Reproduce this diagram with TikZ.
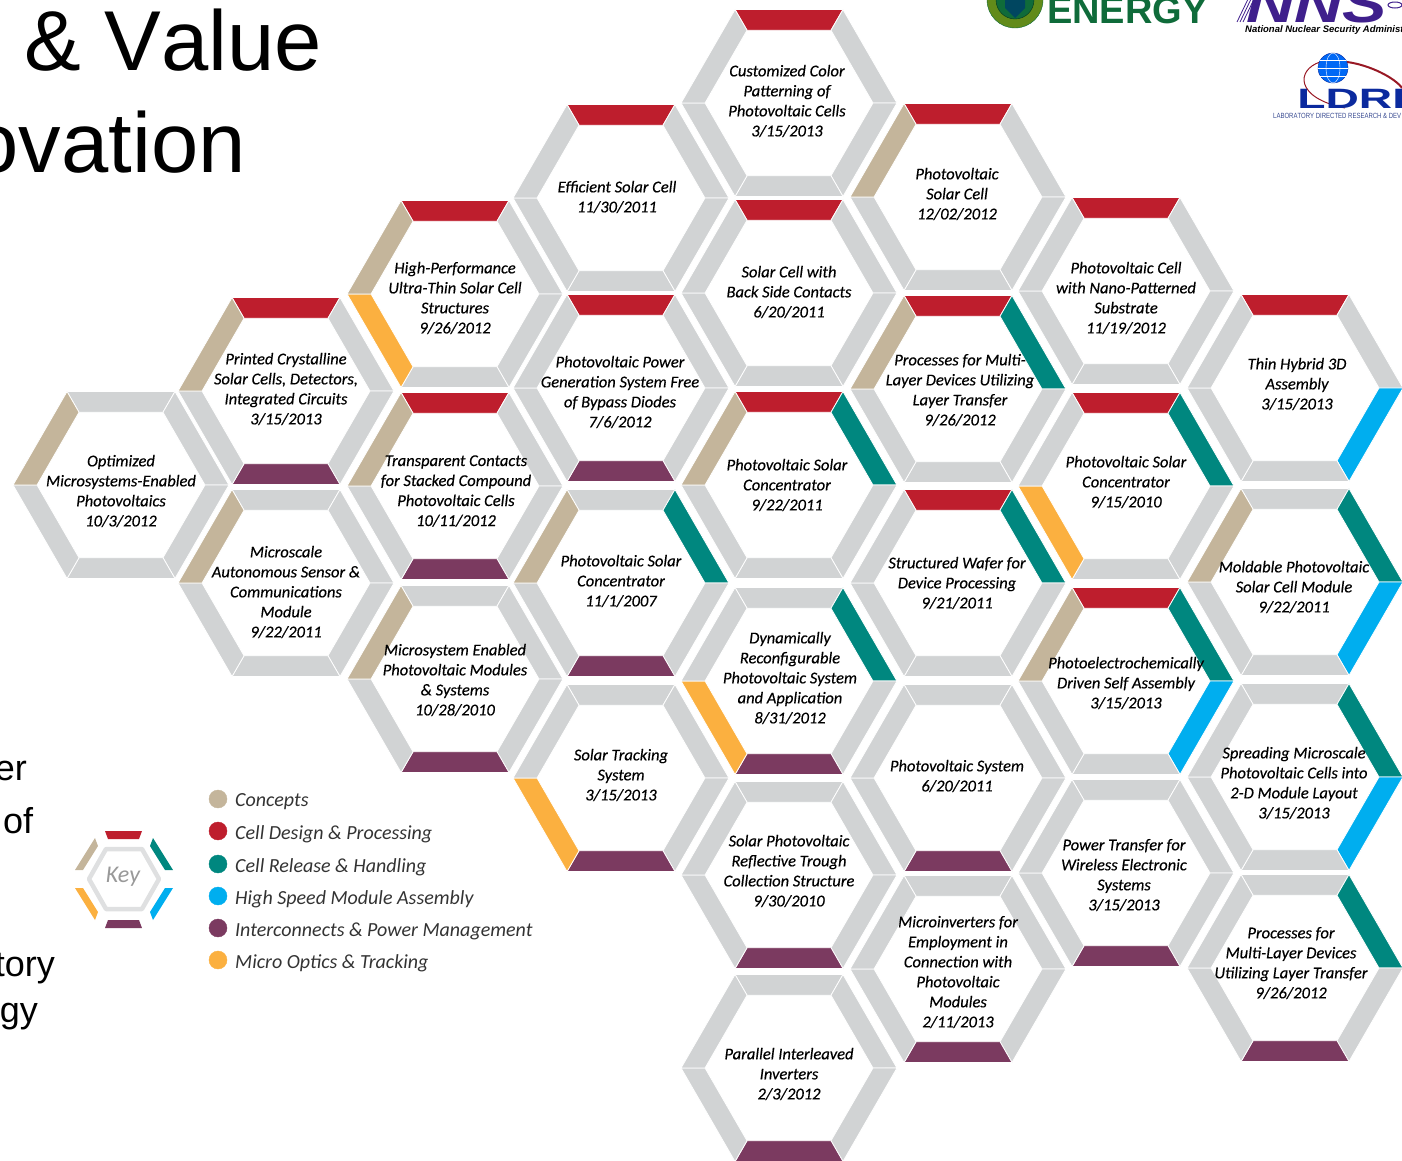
\documentclass[tikz,border=0pt]{standalone}
\usepackage{fontspec}
\usepackage{xcolor}
\setmainfont{Carlito}
\newfontfamily\cellfont{Carlito}[ItalicFeatures={FakeBold=0.35}]
\newfontfamily\arialfont[Kerning=Off]{Liberation Sans}

\definecolor{cgray}{HTML}{D1D3D4}
\definecolor{ctan}{HTML}{C4B59B}
\definecolor{cred}{HTML}{BE1E2D}
\definecolor{cteal}{HTML}{00877F}
\definecolor{cblue}{HTML}{00AEEF}
\definecolor{cpurple}{HTML}{7B3A60}
\definecolor{corange}{HTML}{FBB040}
\definecolor{cgreen}{HTML}{0F6B3A}
\definecolor{cnnsa}{HTML}{3F1F8C}
\definecolor{cldrd}{HTML}{0B2A9E}

\tikzset{
	hexband/.style={draw=white, line width=0.8pt},
	celltext/.style={font=\cellfont\fontsize{16.5}{20}\selectfont\itshape, align=center, inner sep=0pt},
	legendtext/.style={font=\fontsize{20}{24}\selectfont\itshape, text=black!80, anchor=west, inner sep=0pt},
	slidetext/.style={font=\arialfont\fontsize{85}{90}\selectfont, inner sep=0pt},
	sidetext/.style={font=\arialfont\fontsize{36}{40}\selectfont, inner sep=0pt}
}

% x, y, then the colours: top, upper right, lower right, bottom, lower left, upper left
\newcommand{\hexring}[8]{
	\begin{scope}[shift={(#1, #2)}]
		\foreach \bandangle/\bandcolor in {0/#3, -60/#4, -120/#5, 180/#6, 120/#7, 60/#8}
			\filldraw[hexband, fill=\bandcolor, rotate=\bandangle] (-54, -93.5)--(54, -93.5)--(42, -72.7)--(-42, -72.7)--cycle;
	\end{scope}
}

\begin{document}
\begin{tikzpicture}[x=1pt, y=-1pt]
	\useasboundingbox (0, 0) rectangle (1402, 1160);
	\clip (0, 0) rectangle (1402, 1160);

	% slide text
	\node[slidetext, anchor=base west] (value) at (24, 70) {\& Value};
	\node[slidetext, anchor=base east] (ovation) at (246, 172) {ovation};
	\node[sidetext, anchor=base east] (er) at (27, 780) {er};
	\node[sidetext, anchor=base west] (of) at (3, 833) {of};
	\node[sidetext, anchor=base east] (tory) at (55, 976) {tory};
	\node[sidetext, anchor=base east] (gy) at (38, 1022) {gy};

	% logos
	\filldraw[fill=cgreen!55!yellow!80!black, draw=cgreen] (1015, 0) circle (28pt);
	\filldraw[fill=cgreen, draw=cgreen!50!black] (1015, 0) circle (19pt);
	\fill[cblue!40!black] (1005, -5)--(1025, -5)--(1025, 8)--(1015, 18)--(1005, 8)--cycle;
	\node[font=\arialfont\bfseries\fontsize{38}{40}\selectfont, text=cgreen, anchor=base west, inner sep=0pt] (energy) at (1047, 23) {ENERGY};
	\draw[cnnsa, line width=0.8pt] (1237, 22)--(1249, -3);
	\draw[cnnsa, line width=0.8pt] (1240, 22)--(1252, -3);
	\draw[cnnsa, line width=0.8pt] (1243, 22)--(1255, -3);
	\node[font=\arialfont\bfseries\itshape\fontsize{52}{56}\selectfont, text=cnnsa, xscale=1.28, anchor=base west, inner sep=0pt] (nns) at (1246, 22) {NNS};
	\draw[cnnsa, line width=1pt] (1395, 5) ellipse (7pt and 3pt);
	\node[font=\arialfont\bfseries\itshape\fontsize{9.5}{11}\selectfont, anchor=base west, inner sep=0pt] (nnsname) at (1245, 32) {National Nuclear Security Administ};
	\draw[cred!80!black, line width=1pt] (1320, 62) .. controls (1296, 70) and (1295, 98) .. (1345, 108);
	\draw[cred!80!black, line width=2pt] (1347, 62) .. controls (1370, 65) and (1395, 78) .. (1402, 88);
	\filldraw[fill=cblue!60!blue, draw=cldrd] (1333, 68) circle (15pt);
	\draw[white] (1333, 68) ellipse (7pt and 15pt);
	\draw[white] (1318, 68)--(1348, 68);
	\draw[white] (1320, 60)--(1346, 60);
	\draw[white] (1320, 76)--(1346, 76);
	\node[font=\arialfont\bfseries\fontsize{28}{30}\selectfont, text=cldrd, xscale=1.65, anchor=base west, inner sep=0pt] (ldrd) at (1297, 108.5) {LDRD};
	\node[font=\arialfont\fontsize{7.5}{9}\selectfont, text=cldrd!60!gray, xscale=0.8, anchor=base west, inner sep=0pt] (ldrdname) at (1273, 118) {LABORATORY DIRECTED RESEARCH \& DEV};

	% column 1
	\hexring{121}{485}{cgray}{cgray}{cgray}{cgray}{cgray}{ctan}
	\node[celltext] (optimized) at (121, 491) {Optimized\\Microsystems-Enabled\\Photovoltaics\\10/3/2012};

	% column 2
	\hexring{286}{391}{cred}{cgray}{cgray}{cpurple}{cgray}{ctan}
	\node[celltext] (printed) at (286, 389) {Printed Crystalline\\Solar Cells, Detectors,\\Integrated Circuits\\3/15/2013};
	\hexring{286}{583}{cgray}{cgray}{cgray}{cgray}{cgray}{ctan}
	\node[celltext] (microscale) at (286, 592) {Microscale\\Autonomous Sensor \&\\Communications\\Module\\9/22/2011};

	% column 3
	\hexring{455}{294}{cred}{cgray}{cgray}{cgray}{corange}{ctan}
	\node[celltext] (ultrathin) at (455, 298) {High-Performance\\Ultra-Thin Solar Cell\\Structures\\9/26/2012};
	\hexring{455}{486}{cred}{cgray}{cgray}{cpurple}{cgray}{ctan}
	\node[celltext] (transparent) at (456, 491) {Transparent Contacts\\for Stacked Compound\\Photovoltaic Cells\\10/11/2012};
	\hexring{455}{679}{cgray}{cgray}{cgray}{cpurple}{cgray}{ctan}
	\node[celltext] (modules) at (455, 680) {Microsystem Enabled\\Photovoltaic Modules\\\& Systems\\10/28/2010};

	% column 4
	\hexring{621}{198}{cred}{cgray}{cgray}{cgray}{cgray}{cgray}
	\node[celltext] (efficient) at (617, 197) {Efficient Solar Cell\\11/30/2011};
	\hexring{621}{388}{cred}{cgray}{cgray}{cpurple}{cgray}{cgray}
	\node[celltext] (powergen) at (620, 392) {Photovoltaic Power\\Generation System Free\\of Bypass Diodes\\7/6/2012};
	\hexring{621}{583}{cgray}{cteal}{cgray}{cpurple}{cgray}{ctan}
	\node[celltext] (concA) at (621, 581) {Photovoltaic Solar\\Concentrator\\11/1/2007};
	\hexring{621}{778}{cgray}{cgray}{cgray}{cpurple}{corange}{cgray}
	\node[celltext] (tracking) at (621, 775) {Solar Tracking\\System\\3/15/2013};

	% column 5
	\hexring{789}{103}{cred}{cgray}{cgray}{cgray}{cgray}{cgray}
	\node[celltext] (customized) at (787, 101) {Customized Color\\Patterning of\\Photovoltaic Cells\\3/15/2013};
	\hexring{789}{293}{cred}{cgray}{cgray}{cgray}{cgray}{cgray}
	\node[celltext] (backside) at (789, 292) {Solar Cell with\\Back Side Contacts\\6/20/2011};
	\hexring{789}{485}{cred}{cteal}{cgray}{cgray}{cgray}{ctan}
	\node[celltext] (concB) at (787, 485) {Photovoltaic Solar\\Concentrator\\9/22/2011};
	\hexring{789}{681}{cgray}{cteal}{cgray}{cpurple}{corange}{cgray}
	\node[celltext] (dynamic) at (790, 678) {Dynamically\\Reconfigurable\\Photovoltaic System\\and Application\\8/31/2012};
	\hexring{789}{875}{cgray}{cgray}{cgray}{cpurple}{cgray}{cgray}
	\node[celltext] (trough) at (789, 871) {Solar Photovoltaic\\Reflective Trough\\Collection Structure\\9/30/2010};
	\hexring{789}{1068}{cgray}{cgray}{cgray}{cpurple}{cgray}{cgray}
	\node[celltext] (inverters) at (789, 1074) {Parallel Interleaved\\Inverters\\2/3/2012};

	% column 6
	\hexring{958}{197}{cred}{cgray}{cgray}{cgray}{cgray}{ctan}
	\node[celltext] (solarcell) at (957, 194) {Photovoltaic\\Solar Cell\\12/02/2012};
	\hexring{958}{389}{cred}{cteal}{cgray}{cgray}{cgray}{ctan}
	\node[celltext] (multilayer) at (960, 390) {Processes for Multi-\\Layer Devices Utilizing\\Layer Transfer\\9/26/2012};
	\hexring{958}{583}{cred}{cteal}{cgray}{cgray}{cgray}{cgray}
	\node[celltext] (wafer) at (957, 583) {Structured Wafer for\\Device Processing\\9/21/2011};
	\hexring{958}{778}{cgray}{cgray}{cgray}{cpurple}{cgray}{cgray}
	\node[celltext] (system) at (957, 776) {Photovoltaic System\\6/20/2011};
	\hexring{958}{969}{cgray}{cgray}{cgray}{cpurple}{cgray}{cgray}
	\node[celltext] (microinv) at (958, 972) {Microinverters for\\Employment in\\Connection with\\Photovoltaic\\Modules\\2/11/2013};

	% column 7
	\hexring{1126}{291}{cred}{cgray}{cgray}{cgray}{cgray}{cgray}
	\node[celltext] (nano) at (1126, 298) {Photovoltaic Cell\\with Nano-Patterned\\Substrate\\11/19/2012};
	\hexring{1126}{486}{cred}{cteal}{cgray}{cgray}{corange}{cgray}
	\node[celltext] (concC) at (1126, 482) {Photovoltaic Solar\\Concentrator\\9/15/2010};
	\hexring{1126}{681}{cred}{cteal}{cblue}{cgray}{cgray}{ctan}
	\node[celltext] (selfassembly) at (1126, 683) {Photoelectrochemically\\Driven Self Assembly\\3/15/2013};
	\hexring{1126}{873}{cgray}{cgray}{cgray}{cpurple}{cgray}{cgray}
	\node[celltext] (wireless) at (1124, 875) {Power Transfer for\\Wireless Electronic\\Systems\\3/15/2013};

	% column 8
	\hexring{1295}{388}{cred}{cgray}{cblue}{cgray}{cgray}{cgray}
	\node[celltext] (hybrid) at (1297, 384) {Thin Hybrid 3D\\Assembly\\3/15/2013};
	\hexring{1295}{582}{cgray}{cteal}{cblue}{cgray}{cgray}{ctan}
	\node[celltext] (moldable) at (1294, 587) {Moldable Photovoltaic\\Solar Cell Module\\9/22/2011};
	\hexring{1295}{777}{cgray}{cteal}{cblue}{cgray}{cgray}{cgray}
	\node[celltext] (spreading) at (1294, 783) {Spreading Microscale\\Photovoltaic Cells into\\2-D Module Layout\\3/15/2013};
	\hexring{1295}{968}{cgray}{cteal}{cgray}{cpurple}{cgray}{cgray}
	\node[celltext] (transfer) at (1291, 963) {Processes for\\Multi-Layer Devices\\Utilizing Layer Transfer\\9/26/2012};

	% key
	\draw[cgray!70, line width=4.5pt, line join=round] (89, 879)--(106, 849)--(142, 849)--(159, 879)--(142, 909)--(106, 909)--cycle;
	\node[font=\fontsize{24}{26}\selectfont\itshape, text=black!40, inner sep=0pt] (key) at (123, 877) {Key};
	\fill[cred] (105, 831)--(142, 831)--(139, 839)--(108, 839)--cycle;
	\fill[cteal] (153, 838)--(173, 870)--(165, 870)--(150, 846)--cycle;
	\fill[cblue] (173, 888)--(153, 920)--(150, 912)--(165, 888)--cycle;
	\fill[cpurple] (108, 920)--(139, 920)--(142, 928)--(105, 928)--cycle;
	\fill[corange] (75, 888)--(95, 920)--(98, 912)--(83, 888)--cycle;
	\fill[ctan] (95, 838)--(75, 870)--(83, 870)--(98, 846)--cycle;

	% legend
	\filldraw[ctan] (218, 799) circle (9pt);
	\node[legendtext] (concepts) at (235, 802) {Concepts};
	\filldraw[cred] (218, 831) circle (9pt);
	\node[legendtext] (celldesign) at (235, 834) {Cell Design \& Processing};
	\filldraw[cteal] (218, 864) circle (9pt);
	\node[legendtext] (cellrelease) at (235, 867) {Cell Release \& Handling};
	\filldraw[cblue] (218, 896) circle (9pt);
	\node[legendtext] (highspeed) at (235, 899) {High Speed Module Assembly};
	\filldraw[cpurple] (218, 928) circle (9pt);
	\node[legendtext] (interconnects) at (235, 931) {Interconnects \& Power Management};
	\filldraw[corange] (218, 960) circle (9pt);
	\node[legendtext] (microoptics) at (235, 963) {Micro Optics \& Tracking};
\end{tikzpicture}
\end{document}
